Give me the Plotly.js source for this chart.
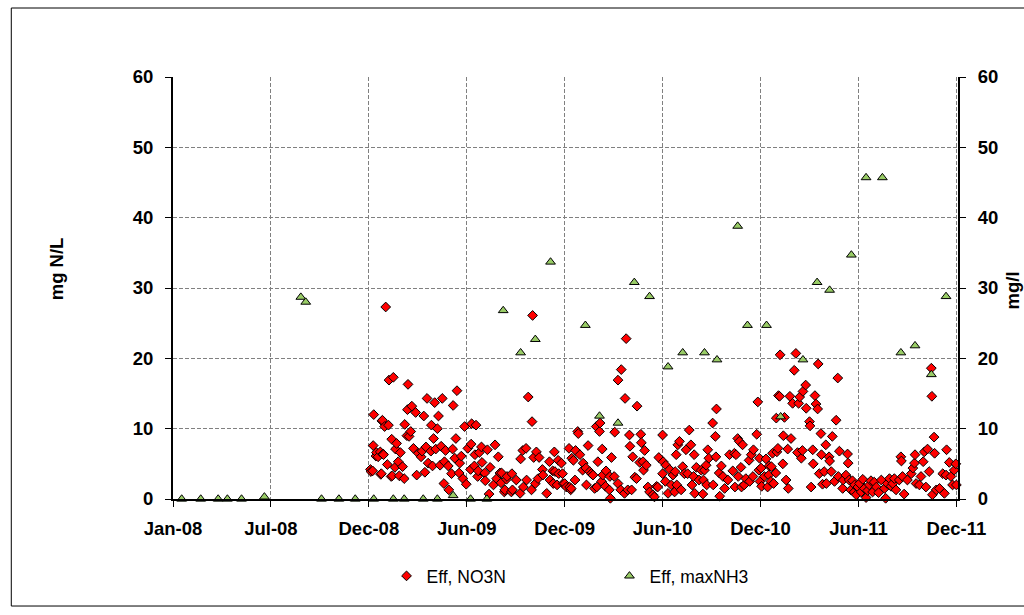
<!DOCTYPE html>
<html>
<head>
<meta charset="utf-8">
<script src="https://cdn.plot.ly/plotly-3.0.1.min.js"></script>
<style>
  html, body { margin: 0; padding: 0; background: #fff; }
  #chart { width: 1024px; height: 615px; }
</style>
</head>
<body>
<div id="chart"></div>
<script>
// ---- Data ----
var tickDates = ['2008-01-04','2008-07-02','2008-12-29','2009-06-27','2009-12-24','2010-06-22','2010-12-19','2011-06-17','2011-12-14'];
var tickLabels = ['Jan-08','Jul-08','Dec-08','Jun-09','Dec-09','Jun-10','Dec-10','Jun-11','Dec-11'];

var no3Dates = [
'2009-01-01','2009-01-02','2009-01-05','2009-01-06','2009-01-07','2009-01-11','2009-01-12','2009-01-15','2009-01-19','2009-01-20','2009-01-21','2009-01-22','2009-01-23','2009-01-24','2009-01-25','2009-01-27','2009-01-29',
'2009-02-01','2009-02-03','2009-02-04','2009-02-08','2009-02-09','2009-02-10','2009-02-12','2009-02-15','2009-02-16','2009-02-18','2009-02-21','2009-02-23','2009-02-25',
'2009-03-01','2009-03-04','2009-03-05','2009-03-09','2009-03-10','2009-03-11','2009-03-13','2009-03-16','2009-03-18','2009-03-21','2009-03-25','2009-03-27','2009-03-30',
'2009-04-04','2009-04-06','2009-04-09','2009-04-11','2009-04-13','2009-04-15','2009-04-17','2009-04-22','2009-04-23','2009-04-25','2009-04-27','2009-04-29',
'2009-05-01','2009-05-04','2009-05-06','2009-05-09','2009-05-11','2009-05-13','2009-05-16','2009-05-17','2009-05-19','2009-05-24','2009-05-25','2009-05-30',
'2009-06-01','2009-06-02','2009-06-05','2009-06-07','2009-06-09','2009-06-13','2009-06-14','2009-06-17','2009-06-20','2009-06-23','2009-06-26','2009-06-29',
'2009-07-04','2009-07-05','2009-07-06','2009-07-11','2009-07-12','2009-07-14','2009-07-17','2009-07-18','2009-07-20','2009-07-24','2009-07-25','2009-07-30','2009-07-31',
'2009-08-04','2009-08-07','2009-08-09','2009-08-15','2009-08-18','2009-08-21','2009-08-24','2009-08-27','2009-08-29','2009-08-30',
'2009-09-04','2009-09-05','2009-09-08','2009-09-09','2009-09-17','2009-09-18','2009-09-19','2009-09-26',
'2009-10-03','2009-10-04','2009-10-08','2009-10-09','2009-10-14','2009-10-15','2009-10-18','2009-10-24','2009-10-25','2009-10-26','2009-10-28','2009-10-31',
'2009-11-02','2009-11-05','2009-11-07','2009-11-13','2009-11-14','2009-11-21','2009-11-26','2009-11-27',
'2009-12-02','2009-12-03','2009-12-05','2009-12-06','2009-12-10','2009-12-12','2009-12-13','2009-12-18','2009-12-20','2009-12-21','2009-12-24','2009-12-27',
'2010-01-01','2010-01-02','2010-01-04','2010-01-05','2010-01-06','2010-01-09','2010-01-12','2010-01-13','2010-01-17','2010-01-18','2010-01-21','2010-01-26','2010-01-27',
'2010-02-01','2010-02-02','2010-02-05','2010-02-08','2010-02-11','2010-02-14','2010-02-17','2010-02-20','2010-02-21','2010-02-23','2010-02-26','2010-02-27',
'2010-03-02','2010-03-03','2010-03-04','2010-03-09','2010-03-10','2010-03-16','2010-03-17','2010-03-18','2010-03-20','2010-03-25','2010-03-26',
'2010-04-01','2010-04-01','2010-04-06','2010-04-07','2010-04-13','2010-04-14','2010-04-16','2010-04-19','2010-04-22','2010-04-23','2010-04-26','2010-04-28',
'2010-05-02','2010-05-05','2010-05-06','2010-05-11','2010-05-13','2010-05-14','2010-05-17','2010-05-18','2010-05-20','2010-05-23','2010-05-26','2010-05-29',
'2010-06-04','2010-06-07','2010-06-11','2010-06-13','2010-06-15','2010-06-22','2010-06-22','2010-06-23','2010-06-27','2010-06-28',
'2010-07-02','2010-07-05','2010-07-08','2010-07-11','2010-07-14','2010-07-15','2010-07-17','2010-07-18','2010-07-20','2010-07-23','2010-07-26','2010-07-29',
'2010-08-01','2010-08-04','2010-08-07','2010-08-10','2010-08-13','2010-08-15','2010-08-18','2010-08-19','2010-08-20','2010-08-23','2010-08-28',
'2010-09-01','2010-09-04','2010-09-05','2010-09-07','2010-09-10','2010-09-11','2010-09-13','2010-09-15','2010-09-22','2010-09-23','2010-09-27','2010-09-28','2010-09-29',
'2010-10-04','2010-10-05','2010-10-08','2010-10-11','2010-10-14','2010-10-20','2010-10-23','2010-10-29',
'2010-11-01','2010-11-02','2010-11-04','2010-11-07','2010-11-08','2010-11-10','2010-11-13','2010-11-14','2010-11-16','2010-11-19','2010-11-22','2010-11-28','2010-11-29',
'2010-12-02','2010-12-05','2010-12-06','2010-12-12','2010-12-14','2010-12-16','2010-12-17','2010-12-18','2010-12-20','2010-12-21','2010-12-26','2010-12-29',
'2011-01-01','2011-01-03','2011-01-04','2011-01-07','2011-01-08','2011-01-10','2011-01-12','2011-01-16','2011-01-17','2011-01-18','2011-01-20','2011-01-21','2011-01-23','2011-01-24','2011-01-29','2011-01-30',
'2011-02-01','2011-02-04','2011-02-07','2011-02-08','2011-02-11','2011-02-13','2011-02-16','2011-02-19','2011-02-22','2011-02-25','2011-02-27',
'2011-03-01','2011-03-04','2011-03-06','2011-03-07','2011-03-12','2011-03-13','2011-03-19','2011-03-20','2011-03-22','2011-03-25','2011-03-26','2011-03-29','2011-03-31',
'2011-04-03','2011-04-04','2011-04-06','2011-04-09','2011-04-10','2011-04-12','2011-04-15','2011-04-18','2011-04-19','2011-04-24','2011-04-25','2011-04-28','2011-04-30',
'2011-05-04','2011-05-07','2011-05-10','2011-05-11','2011-05-13','2011-05-19','2011-05-20','2011-05-25','2011-05-28','2011-05-29','2011-05-31',
'2011-06-03','2011-06-06','2011-06-09','2011-06-10','2011-06-13','2011-06-16','2011-06-19','2011-06-22','2011-06-25','2011-06-28',
'2011-07-01','2011-07-04','2011-07-07','2011-07-10','2011-07-13','2011-07-16','2011-07-20','2011-07-24','2011-07-29',
'2011-08-04','2011-08-06','2011-08-09','2011-08-13','2011-08-16','2011-08-19','2011-08-22','2011-08-25','2011-08-31',
'2011-09-03','2011-09-04','2011-09-06','2011-09-09','2011-09-15','2011-09-22','2011-09-25','2011-09-28','2011-09-29',
'2011-10-01','2011-10-07','2011-10-10','2011-10-14','2011-10-16','2011-10-19','2011-10-22','2011-10-25','2011-10-29','2011-10-30','2011-10-31',
'2011-11-03','2011-11-04','2011-11-07','2011-11-13','2011-11-19','2011-11-22','2011-11-25','2011-11-26',
'2011-12-01','2011-12-04','2011-12-07','2011-12-10','2011-12-13','2011-12-14'
];
var no3Values = [
4.2,3.9,4.0,7.6,12.0,6.1,6.6,6.0,6.7,3.5,3.6,11.1,11.2,6.4,6.3,10.3,27.3,
4.9,10.5,16.9,3.2,8.5,3.3,17.3,4.5,7.1,7.9,5.3,3.3,6.6,
4.6,2.9,10.6,9.0,12.7,16.3,8.9,9.6,13.2,7.2,12.3,3.4,6.5,
6.0,6.8,11.8,3.8,7.4,14.3,5.1,6.8,10.5,4.7,8.6,13.7,
7.1,10.0,11.8,4.8,7.5,14.3,2.2,5.3,6.9,4.7,1.3,3.6,
7.1,13.3,5.8,8.6,15.4,3.7,5.1,6.1,2.9,10.3,2.1,7.2,
4.2,7.8,10.7,4.7,6.3,10.5,3.2,4.0,6.6,7.4,5.2,3.7,2.6,
7.0,0.7,4.5,2.0,7.7,2.9,6.0,3.7,2.3,3.7,
1.0,1.3,2.8,3.2,1.0,3.6,1.3,2.7,
0.8,5.7,6.9,1.7,7.2,2.7,14.5,1.3,11.0,26.1,5.9,2.2,
6.7,2.9,5.9,4.2,3.4,0.8,5.3,2.7,
4.0,2.2,6.7,3.9,2.0,5.5,3.6,5.1,3.6,2.2,2.2,1.7,
7.2,1.7,1.3,1.5,5.8,5.5,2.7,6.9,9.6,9.3,6.3,4.1,5.1,
4.4,2.0,7.6,3.9,3.6,3.4,1.5,10.3,1.7,5.3,9.6,10.8,
2.5,7.1,3.4,1.8,4.0,1.3,3.2,0.1,5.9,3.2,9.5,
16.9,2.2,1.3,18.4,0.8,14.3,22.8,1.3,9.1,7.5,1.3,6.0,
3.1,2.9,13.2,5.2,9.2,8.0,5.3,4.1,6.9,4.8,1.7,1.0,
0.6,0.3,1.8,1.7,5.9,9.1,3.6,5.3,2.5,4.8,
0.8,4.2,2.0,3.4,1.0,3.9,6.3,2.0,7.7,8.2,1.3,4.6,
3.6,7.0,3.6,9.8,7.7,2.0,3.2,6.3,0.8,4.5,2.7,
4.1,0.7,2.7,4.1,4.8,2.0,7.0,5.8,10.8,2.0,8.9,6.0,12.8,
3.7,0.4,4.7,3.2,1.5,2.7,6.3,4.0,
6.5,1.7,6.3,8.6,3.2,8.2,4.5,1.7,7.7,2.0,2.9,5.5,2.5,
6.3,3.2,7.0,9.2,13.8,4.1,5.8,2.5,4.4,1.8,3.2,5.7,
1.7,3.4,4.7,2.5,4.6,6.5,2.2,3.7,11.5,6.7,7.2,14.7,14.6,20.5,5.0,9.0,
11.6,2.7,7.1,1.5,14.6,8.6,13.6,18.3,20.7,6.6,13.6,
14.5,5.8,6.9,15.3,16.2,12.9,11.0,10.4,1.7,7.0,5.0,14.7,13.5,
12.8,19.2,3.6,9.3,6.3,2.1,3.9,7.7,2.2,6.0,5.4,3.9,8.9,
2.5,11.2,17.2,3.2,6.8,1.5,2.7,3.4,6.4,5.1,2.7,
1.3,2.6,1.0,2.0,0.6,1.7,2.2,1.0,2.8,1.5,
0.2,1.2,2.0,2.6,1.0,2.4,1.7,0.9,2.7,
1.5,0.1,2.2,2.9,1.8,2.2,2.9,1.3,2.7,
6.0,5.4,3.2,0.7,2.7,3.6,4.4,5.1,6.3,
2.2,2.0,3.2,5.3,6.7,1.7,7.1,3.9,18.6,14.6,0.6,
8.8,6.5,1.3,1.5,3.6,0.8,3.4,7.0,
5.2,3.2,2.0,4.1,5.0,2.0
];

var nh3Dates = [
'2008-01-20','2008-02-24','2008-03-27','2008-04-13','2008-05-09','2008-06-20','2008-08-26','2008-09-04','2008-10-03','2008-11-04','2008-12-04',
'2009-01-07','2009-02-12','2009-03-04','2009-04-08','2009-05-04','2009-06-02','2009-07-04','2009-08-03','2009-09-02','2009-10-04','2009-10-31','2009-11-28',
'2010-01-31','2010-02-26','2010-04-01','2010-05-01','2010-05-29','2010-07-02','2010-07-29','2010-09-07','2010-09-30','2010-11-07','2010-11-25','2010-12-30',
'2011-01-25','2011-03-07','2011-04-02','2011-04-25','2011-06-04','2011-07-01','2011-07-31','2011-09-03','2011-09-29','2011-10-29','2011-11-25'
];
var nh3Values = [
0,0,0,0,0,0.3,28.7,28.0,0,0,0,
0,0,0,0,0,0.5,0,0,26.8,20.8,22.7,33.7,
24.7,11.8,10.8,30.8,28.8,18.8,20.8,20.8,19.8,38.8,24.7,24.7,
11.7,19.8,30.8,29.7,34.7,45.7,45.7,20.8,21.8,17.7,28.8
];

var yTickVals = [0,10,20,30,40,50,60];

// ---- Chart ----
var FONT = 'Liberation Sans, Arial, Helvetica, sans-serif';
var tickFont = {family: FONT, size: 18.5, weight: 'bold', color: '#000'};

var traces = [
  {
    type: 'scatter', mode: 'markers', name: 'Eff, NO3N',
    x: no3Dates, y: no3Values, xaxis: 'x', yaxis: 'y',
    cliponaxis: false, legend: 'legend',
    marker: {symbol: 'diamond', size: 7.5, color: '#FF0000', line: {color: '#000', width: 1}}
  },
  {
    type: 'scatter', mode: 'markers', name: 'Eff, maxNH3',
    x: nh3Dates, y: nh3Values, xaxis: 'x', yaxis: 'y2',
    cliponaxis: false, legend: 'legend2',
    marker: {symbol: 'triangle-up', size: 8.5, color: '#99CC66', line: {color: '#000', width: 1}}
  }
];

var legendCommon = {
  orientation: 'h', yanchor: 'middle', xanchor: 'left', y: -0.1825,
  font: {family: FONT, size: 17.5, color: '#000'},
  bgcolor: 'rgba(0,0,0,0)', itemsizing: 'trace'
};

var layout = {
  width: 1024, height: 615,
  margin: {l: 173, r: 66, t: 77, b: 116},
  paper_bgcolor: '#fff', plot_bgcolor: '#fff',
  font: {family: FONT, color: '#000'},
  showlegend: true,
  legend: Object.assign({}, legendCommon, {x: 0.272}),
  legend2: Object.assign({}, legendCommon, {x: 0.556}),
  xaxis: {
    type: 'date', range: ['2008-01-04', '2011-12-17'],
    tickmode: 'array', tickvals: tickDates, ticktext: tickLabels,
    ticks: 'outside', ticklen: 6, tickwidth: 1, tickcolor: '#000',
    showline: true, linewidth: 2, linecolor: '#000',
    showgrid: true, gridcolor: '#808080', gridwidth: 1, griddash: '4px,2px',
    zeroline: false, tickfont: tickFont, ticklabelstandoff: 6
  },
  yaxis: {
    range: [0, 60], tickmode: 'array', tickvals: yTickVals,
    ticks: 'outside', ticklen: 6, tickwidth: 1, tickcolor: '#000',
    showline: true, linewidth: 2, linecolor: '#000',
    showgrid: true, gridcolor: '#808080', gridwidth: 1, griddash: '4px,2px',
    zeroline: false, tickfont: tickFont, ticklabelstandoff: 8
  },
  yaxis2: {
    range: [0, 60], tickmode: 'array', tickvals: yTickVals,
    overlaying: 'y', side: 'right',
    ticks: 'outside', ticklen: 6, tickwidth: 1, tickcolor: '#000',
    showline: true, linewidth: 2, linecolor: '#000',
    showgrid: false, zeroline: false, tickfont: tickFont, ticklabelstandoff: 8
  },
  annotations: [
    {text: 'mg N/L', xref: 'paper', yref: 'paper', x: -0.1487, y: 0.545,
     textangle: -90, showarrow: false, xanchor: 'center', yanchor: 'middle',
     font: {family: FONT, size: 18.5, weight: 'bold', color: '#000'}},
    {text: 'mg/l', xref: 'paper', yref: 'paper', x: 1.0695, y: 0.493,
     textangle: -90, showarrow: false, xanchor: 'center', yanchor: 'middle',
     font: {family: FONT, size: 18.5, weight: 'bold', color: '#000'}}
  ],
  shapes: [
    {type: 'rect', xref: 'paper', yref: 'paper', x0: -0.206, x1: 1.5, y0: -0.2536, y1: 1.1635,
     line: {color: '#000', width: 1}, fillcolor: 'rgba(0,0,0,0)', layer: 'below'}
  ]
};

Plotly.newPlot('chart', traces, layout, {displayModeBar: false, staticPlot: true});
</script>
</body>
</html>
